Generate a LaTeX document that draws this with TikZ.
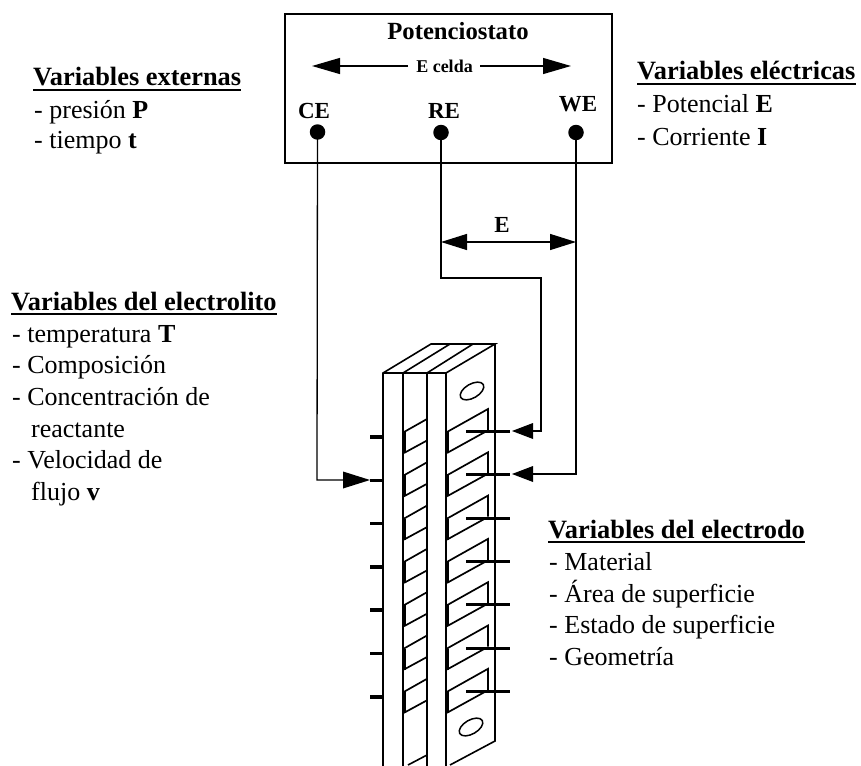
\documentclass[tikz,border=0pt]{standalone}
\usepackage{fontspec}
\setmainfont{Liberation Serif}
\usetikzlibrary{arrows.meta}
\tikzset{
  txt/.style={inner sep=0pt,anchor=base west,font=\fontsize{26}{26}\selectfont},
  head/.style={inner sep=0pt,anchor=base west,font=\fontsize{26.4}{26.4}\selectfont\bfseries},
  lab/.style={inner sep=0pt,anchor=base,font=\fontsize{23}{23}\selectfont\bfseries},
  wire/.style={line width=1.3pt},
  pin/.style={circle,fill=black,inner sep=0pt,minimum size=15.5pt},
  bigarrow/.style={line width=1.3pt,-{Triangle[length=28pt,width=16pt]}},
  dblarrow/.style={line width=1.3pt,{Triangle[length=26pt,width=16pt]}-{Triangle[length=26pt,width=16pt]}},
  body/.style={line width=1.6pt},
  tick/.style={line width=3.5pt},
  tabline/.style={line width=3pt},
  plate/.style={line width=1.7pt,line join=miter},
}
\newcommand{\headline}[4]{%
  \node[head] (#1) at (#2,#3) {#4};
  \draw[line width=1.8pt] ([yshift=-4pt]#1.base west) -- ([yshift=-4pt]#1.base east);}
\begin{document}
\begin{tikzpicture}[x=1pt,y=-1pt]
\useasboundingbox (0,0) rectangle (861,765);
\clip (0,0) rectangle (861,765);
% potentiostat
\node[draw,line width=1.5pt,minimum width=327pt,minimum height=149pt,inner sep=0pt] (box) at (448.5,88.5) {};
\node[lab,font=\fontsize{24.7}{24.7}\selectfont\bfseries] (pot) at (458,40) {Potenciostato};
\node[inner sep=0pt,anchor=base,font=\fontsize{18}{18}\selectfont\bfseries] (ecelda) at (444.5,72.5) {E celda};
\coordinate (eL) at (312,66);
\coordinate (eR) at (571,66);
\coordinate (eLs) at (408,66);
\coordinate (eRs) at (480,66);
\draw[bigarrow] (eLs) -- (eL);
\draw[bigarrow] (eRs) -- (eR);
\node[lab] (ce) at (314,118) {CE};
\node[lab] (re) at (444,118) {RE};
\node[lab] (we) at (578,111.5) {WE};
\node[pin] (pce) at (317.5,132) {};
\node[pin] (pre) at (441,132.5) {};
\node[pin] (pwe) at (576,132.5) {};
% stack body
\coordinate (fa) at (383,373);
\coordinate (fb) at (403,373);
\coordinate (fc) at (427,373);
\coordinate (fd) at (446,373);
\coordinate (ba) at (431,344);
\coordinate (bb) at (450,344);
\coordinate (bc) at (473,344);
\coordinate (bd) at (495,344);
\draw[body,line join=miter] (383,770) -- (fa) -- (ba) -- (bd) -- (fd) -- (446,770);
\draw[body] (fa) -- (fd);
\draw[body] (fb) -- (bb);
\draw[body] (fc) -- (bc);
\draw[body] (fb) -- (403,770);
\draw[body] (fc) -- (427,770);
\draw[body] (bd) -- (495,741) -- (450,765);
\draw[body] (408,765) -- (427,755);
\draw[line width=1.5pt,rotate around={30:(472,391)}] (472,391) ellipse [x radius=13pt,y radius=7pt];
\draw[line width=1.5pt,rotate around={30:(471,727)}] (471,727) ellipse [x radius=13pt,y radius=7pt];
% plates and terminals
\foreach \k in {0,...,6}{
  \pgfmathsetmacro{\yy}{432+43.3*\k}
  \draw[plate] (404,\yy) -- (427,\yy-13);
  \draw[plate] (404,\yy+21) -- (427,\yy+8.5);
  \draw[line width=3.2pt] (404,\yy) -- (404,\yy+21);
  \draw[plate] (447,\yy) -- (488,\yy-23) -- (488,\yy-2);
  \draw[plate] (447,\yy+21) -- (485,\yy);
  \draw[line width=3.2pt] (447,\yy) -- (447,\yy+21);
  \draw[tick] (370,\yy+5) -- (383,\yy+5);
  \draw[tabline] (466,\yy-0.5) -- (510,\yy-0.5);
}
% wires
\coordinate (ceCorner) at (317,480);
\coordinate (ceTip) at (370,480);
\draw[wire] (pce.center) -- (ceCorner) -- (345,480);
\fill (ceTip) -- (343,471.5) -- (343,488.5) -- cycle;
\coordinate (reA) at (441,278);
\coordinate (reB) at (541,278);
\coordinate (reC) at (541,431);
\coordinate (reTip) at (512,431);
\draw[wire] (pre.center) -- (reA) -- (reB) -- (reC) -- (530,431);
\fill (reTip) -- (533,423) -- (533,439) -- cycle;
\coordinate (weA) at (576,474);
\coordinate (weTip) at (512,474);
\draw[wire] (pwe.center) -- (weA) -- (530,474);
\fill (weTip) -- (533,466) -- (533,482) -- cycle;
% E arrow
\coordinate (dL) at (441,242);
\coordinate (dR) at (576,242);
\draw[dblarrow] (dL) -- (dR);
\node[lab] (elab) at (502,232) {E};
% texts
\headline{hext}{33}{86}{Variables externas}
\node[txt] (t1) at (34,118) {- presión \textbf{P}};
\node[txt] (t2) at (34,148) {- tiempo \textbf{t}};
\headline{hele}{637}{80}{Variables eléctricas}
\node[txt] (t3) at (637,113) {- Potencial \textbf{E}};
\node[txt] (t4) at (637,145) {- Corriente \textbf{I}};
\headline{hlyt}{11}{310}{Variables del electrolito}
\node[txt] (t5) at (12,342) {- temperatura \textbf{T}};
\node[txt] (t6) at (12,373) {- Composición};
\node[txt] (t7) at (12,405) {- Concentración de};
\node[txt] (t8) at (31,437) {reactante};
\node[txt] (t9) at (12,468) {- Velocidad de};
\node[txt] (t10) at (31,500) {flujo \textbf{v}};
\headline{hdo}{548}{538}{Variables del electrodo}
\node[txt] (t11) at (549,570) {- Material};
\node[txt] (t12) at (549,602) {- Área de superficie};
\node[txt] (t13) at (549,633) {- Estado de superficie};
\node[txt] (t14) at (549,665) {- Geometría};
\end{tikzpicture}
\end{document}
